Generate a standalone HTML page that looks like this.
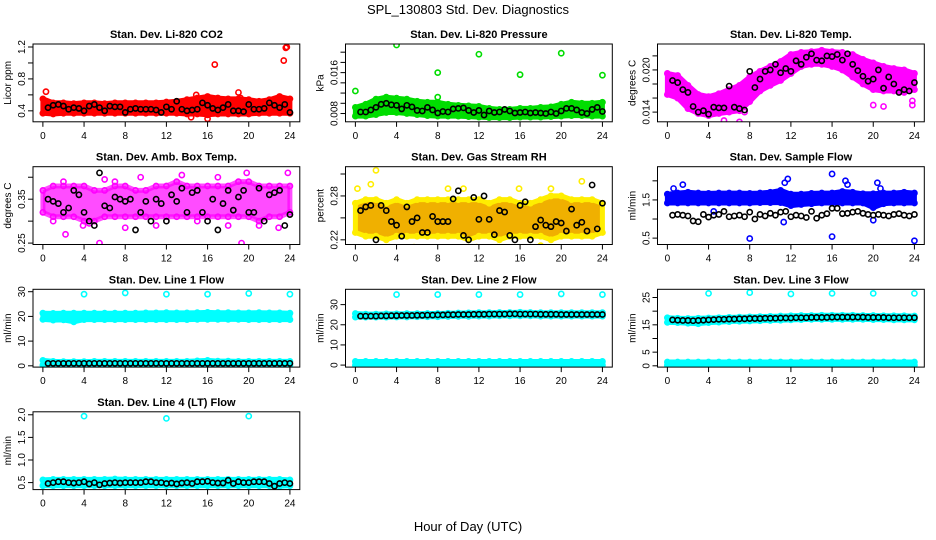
<!DOCTYPE html>
<html><head><meta charset="utf-8">
<style>
html,body{margin:0;padding:0;background:#fff;}
svg{display:block;font-family:"Liberation Sans",Arial,sans-serif;}
</style></head>
<body>
<svg id="chart" width="936" height="540" viewBox="0 0 936 540" xmlns="http://www.w3.org/2000/svg">
<text x="468" y="14" text-anchor="middle" font-size="13">SPL_130803  Std. Dev. Diagnostics</text>
<text x="468" y="531" text-anchor="middle" font-size="13">Hour of Day (UTC)</text>
</svg>
<script>
// ---- shared x data ----
const hoursBand = [0,1,2,3,4,5,6,7,8,9,10,11,12,13,14,15,16,17,18,19,20,21,22,23,24];
const hoursBlack = [0.5,1,1.5,2,2.5,3,3.5,4,4.5,5,5.5,6,6.5,7,7.5,8,8.5,9,9.5,10,10.5,11,11.5,12,12.5,13,13.5,14,14.5,15,15.5,16,16.5,17,17.5,18,18.5,19,19.5,20,20.5,21,21.5,22,22.5,23,23.5,24];
const xTicks = [0,4,8,12,16,20,24];

// ---- Panel 1: CO2 ----
const co2Lo = [0.37,0.36,0.37,0.37,0.37,0.37,0.37,0.37,0.37,0.37,0.37,0.37,0.37,0.37,0.36,0.36,0.35,0.36,0.36,0.36,0.36,0.37,0.37,0.37,0.37];
const co2Hi = [0.55,0.50,0.50,0.49,0.50,0.50,0.49,0.50,0.50,0.50,0.50,0.50,0.51,0.52,0.54,0.56,0.58,0.56,0.55,0.55,0.54,0.52,0.54,0.58,0.55];
const co2OutX = [16.7,23.4,23.6,23.7,0.3,19,16,14.4,14.9,19.2];
const co2OutY = [0.98,1.03,1.19,1.20,0.64,0.63,0.30,0.32,0.60,0.56];
const co2Black = [0.44,0.47,0.48,0.46,0.42,0.44,0.43,0.40,0.46,0.48,0.44,0.40,0.46,0.45,0.45,0.38,0.42,0.43,0.42,0.42,0.42,0.41,0.38,0.45,0.42,0.52,0.42,0.40,0.41,0.42,0.50,0.47,0.43,0.41,0.44,0.48,0.40,0.40,0.39,0.48,0.42,0.42,0.43,0.50,0.47,0.44,0.48,0.38];
const co2Ticks = [0.4,0.6,0.8,1.0,1.2];
const co2Labels = ["0.4","","0.8","","1.2"];

// ---- Panel 2: Pressure ----
const presLo = [0.0075,0.0075,0.0078,0.0082,0.0082,0.008,0.0078,0.0076,0.0075,0.0075,0.0075,0.0074,0.0073,0.0072,0.0072,0.0072,0.0073,0.0073,0.0073,0.0074,0.0075,0.0076,0.0076,0.0075,0.0075];
const presHi = [0.0092,0.0098,0.0108,0.0112,0.0110,0.0108,0.0104,0.0102,0.0102,0.0098,0.0096,0.0095,0.0094,0.0090,0.0088,0.0088,0.0090,0.0090,0.0092,0.0093,0.0098,0.0102,0.0100,0.0100,0.0102];
const presOutX = [4,12,20,8,16,24,0,8];
const presOutY = [0.0214,0.0196,0.0198,0.0160,0.0156,0.0155,0.0124,0.0112];
const presBlack = [0.0083,0.0083,0.0087,0.0092,0.0098,0.0100,0.0097,0.0096,0.0089,0.0096,0.0093,0.0086,0.0085,0.0092,0.0087,0.0081,0.0084,0.0083,0.0089,0.0090,0.0091,0.0086,0.0082,0.0086,0.0077,0.0085,0.0082,0.0083,0.0088,0.0085,0.0081,0.0082,0.0083,0.0081,0.0082,0.0081,0.0080,0.0083,0.0080,0.0085,0.0090,0.0090,0.0087,0.0082,0.0080,0.0088,0.0092,0.0084];
const presTicks = [0.008,0.010,0.012,0.014,0.016,0.018,0.020];
const presLabels = ["0.008","","","","0.016","",""];

// ---- Panel 3: Li-820 Temp ----
const tempLo = [0.0165,0.0160,0.0145,0.0138,0.0135,0.0138,0.0140,0.0142,0.0155,0.0170,0.0178,0.0185,0.0195,0.0205,0.0208,0.0208,0.0205,0.0200,0.0190,0.0180,0.0172,0.0170,0.0170,0.0168,0.0172];
const tempHi = [0.0195,0.0192,0.0178,0.0165,0.0162,0.0166,0.0172,0.0178,0.0190,0.0198,0.0205,0.0212,0.0222,0.0225,0.0226,0.0228,0.0226,0.0225,0.0222,0.0215,0.0210,0.0205,0.0202,0.0200,0.0195];
const tempOutX = [5.5,7,7.5,20,21,23.8,23.8];
const tempOutY = [0.0128,0.0126,0.0140,0.0150,0.0148,0.0156,0.0150];
const tempBlack = [0.0185,0.0182,0.0172,0.0168,0.0148,0.0140,0.0142,0.0137,0.0147,0.0146,0.0146,0.0177,0.0147,0.0145,0.0143,0.0198,0.0175,0.0187,0.0198,0.0200,0.0208,0.0196,0.0202,0.0198,0.0213,0.0208,0.0218,0.0223,0.0214,0.0213,0.0220,0.0219,0.0222,0.0214,0.0223,0.0208,0.0199,0.0191,0.0184,0.0187,0.0200,0.0174,0.0190,0.0180,0.0168,0.0172,0.0170,0.0182];
const tempTicks = [0.014,0.016,0.018,0.020,0.022];
const tempLabels = ["0.014","","","0.020",""];

// ---- Panel 4: Amb Box Temp ----
const boxLo = [0.32,0.31,0.31,0.31,0.30,0.30,0.31,0.31,0.31,0.31,0.31,0.31,0.31,0.31,0.31,0.31,0.31,0.31,0.31,0.31,0.31,0.30,0.31,0.31,0.32];
const boxHi = [0.37,0.38,0.38,0.38,0.38,0.37,0.37,0.38,0.38,0.37,0.37,0.38,0.38,0.39,0.38,0.38,0.38,0.38,0.38,0.39,0.39,0.38,0.38,0.38,0.38];
const boxOutX = [2.2,5.5,3.9,8,13.5,17,19.8,23.8,19.3,22.9,4.5,2,7,9.5,1,11,15,21,6,18];
const boxOutY = [0.27,0.25,0.29,0.285,0.405,0.40,0.41,0.41,0.25,0.285,0.295,0.39,0.39,0.40,0.30,0.29,0.30,0.29,0.395,0.29];
const boxBlack = [0.35,0.345,0.34,0.32,0.33,0.37,0.36,0.32,0.30,0.29,0.41,0.335,0.33,0.355,0.35,0.345,0.35,0.28,0.32,0.345,0.30,0.35,0.34,0.30,0.36,0.345,0.375,0.32,0.365,0.37,0.32,0.30,0.35,0.28,0.34,0.37,0.325,0.355,0.37,0.32,0.32,0.375,0.30,0.36,0.365,0.37,0.29,0.315];
const boxTicks = [0.25,0.30,0.35,0.40];
const boxLabels = ["0.25","","0.35",""];

// ---- Panel 5: Gas Stream RH ----
const rhLo = [0.23,0.225,0.225,0.22,0.225,0.225,0.225,0.225,0.225,0.225,0.225,0.22,0.225,0.225,0.22,0.225,0.225,0.225,0.225,0.22,0.225,0.225,0.225,0.225,0.23];
const rhHi = [0.27,0.275,0.275,0.27,0.275,0.27,0.275,0.275,0.275,0.275,0.275,0.275,0.275,0.27,0.275,0.275,0.27,0.27,0.275,0.28,0.28,0.275,0.275,0.275,0.27];
const rhOutX = [2,0.2,3.3,5.7,11.8,19,22,9,13.8,1.5,18,10.5,15.9];
const rhOutY = [0.315,0.29,0.21,0.21,0.21,0.29,0.30,0.29,0.21,0.296,0.212,0.29,0.29];
const rhBlack = [0.26,0.265,0.267,0.22,0.267,0.26,0.245,0.24,0.225,0.265,0.245,0.25,0.23,0.23,0.252,0.245,0.245,0.245,0.276,0.287,0.226,0.22,0.278,0.248,0.28,0.248,0.227,0.26,0.258,0.226,0.22,0.267,0.272,0.22,0.238,0.247,0.24,0.238,0.245,0.243,0.232,0.262,0.240,0.244,0.232,0.295,0.235,0.27];
const rhTicks = [0.22,0.25,0.28,0.31];
const rhLabels = ["0.22","","0.28",""];

// ---- Panel 6: Sample Flow ----
const sfLo = [1.42,1.42,1.42,1.42,1.42,1.42,1.42,1.42,1.42,1.43,1.43,1.43,1.35,1.38,1.40,1.42,1.42,1.42,1.42,1.42,1.30,1.40,1.42,1.42,1.42];
const sfHi = [1.65,1.68,1.70,1.68,1.67,1.68,1.68,1.68,1.67,1.68,1.70,1.75,1.65,1.65,1.67,1.68,1.68,1.72,1.70,1.66,1.66,1.68,1.68,1.70,1.68];
const sfOutX = [8,16,24,16,17.3,11.7,1.5,11.3,20,20.4,4.5,0.6,11.4,17.5,20.7];
const sfOutY = [0.49,0.54,0.43,2.18,2.0,2.05,1.9,0.92,0.97,1.95,1.2,1.8,1.95,1.9,1.8];
const sfBlack = [1.1,1.12,1.1,1.08,0.95,0.93,1.12,1.05,1.1,1.12,1.2,1.06,1.08,1.1,1.06,1.18,1.0,1.12,1.08,1.15,1.1,1.18,1.2,1.06,1.1,1.08,1.04,1.2,1.02,1.1,1.14,1.28,1.28,1.14,1.15,1.18,1.2,1.15,1.12,1.1,1.12,1.1,1.08,1.12,1.14,1.1,1.08,1.12];
const sfTicks = [0.5,1.0,1.5,2.0];
const sfLabels = ["0.5","","1.5",""];

// ---- Panel 7: Line 1 Flow ----
const l1Lo = [18.8,18.5,18.6,17.8,18.7,18.7,18.7,18.7,18.7,18.7,18.7,18.7,18.7,18.7,18.7,18.8,18.8,18.8,18.8,18.8,18.7,18.7,18.7,18.7,18.7];
const l1Hi = [21.3,21.2,21.3,21.3,21.3,21.3,21.3,21.3,21.3,21.3,21.4,21.4,21.5,21.4,21.4,21.5,21.6,21.5,21.5,21.4,21.4,21.5,21.4,21.4,21.3];
const l1Lo2 = [0.3,0.3,0.3,0.3,0.3,0.3,0.3,0.3,0.3,0.3,0.3,0.3,0.3,0.3,0.3,0.3,0.3,0.3,0.3,0.3,0.3,0.3,0.3,0.3,0.3];
const l1Hi2 = [2.2,1.8,1.7,1.7,1.7,1.8,1.8,1.8,1.8,1.8,1.8,1.8,1.8,1.8,1.8,2.0,2.2,1.9,1.9,1.8,1.8,1.8,1.8,1.8,1.8];
const l1OutX = [4,8,12,16,20,24];
const l1OutY = [29,29.5,29,29,29.3,29];
const l1Black = [1.0,1.0,1.0,1.0,1.0,1.0,1.0,1.0,1.0,1.0,1.0,1.0,1.0,1.0,1.0,1.0,1.0,1.0,1.0,1.0,1.0,1.0,1.0,1.0,1.0,1.0,1.0,1.0,1.0,1.0,1.0,1.0,1.0,1.0,1.0,1.0,1.0,1.0,1.0,1.0,1.0,1.0,1.0,1.0,1.0,1.0,1.0,1.0];
const l1Ticks = [0,10,20,30];
const l1Labels = ["0","10","20","30"];

// ---- Panel 8: Line 2 Flow ----
const l2Lo = [23.8,23.8,23.8,23.8,23.9,23.9,24.0,24.0,24.0,24.1,24.2,24.2,24.3,24.3,24.4,24.4,24.4,24.4,24.3,24.3,24.3,24.3,24.3,24.3,24.3];
const l2Hi = [25.6,25.3,25.3,25.4,25.4,25.5,25.5,25.6,25.6,25.7,25.8,25.9,26.0,26.0,26.1,26.1,26.2,26.1,26.0,26.0,26.0,26.0,26.0,26.0,26.0];
const l2Lo2 = [0,0,0,0,0,0,0,0,0,0,0,0,0,0,0,0,0,0,0,0,0,0,0,0,0];
const l2Hi2 = [1.8,1.8,1.8,1.8,1.8,1.8,1.8,1.8,1.8,1.8,1.8,1.8,1.8,1.8,1.8,1.8,1.8,1.8,1.8,1.8,1.8,1.8,1.8,1.8,1.8];
const l2OutX = [4,8,12,16,20,24];
const l2OutY = [35,35,35,35,35.3,35];
const l2Black = [24.3,24.3,24.3,24.3,24.4,24.4,24.5,24.5,24.6,24.6,24.6,24.7,24.7,24.8,24.8,24.9,24.9,25.0,25.0,25.1,25.1,25.1,25.2,25.2,25.2,25.3,25.3,25.3,25.3,25.4,25.4,25.3,25.3,25.3,25.3,25.2,25.2,25.2,25.2,25.1,25.1,25.1,25.1,25.1,25.1,25.1,25.1,25.1];
const l2Ticks = [0,10,20,30];
const l2Labels = ["0","10","20","30"];

// ---- Panel 9: Line 3 Flow ----
const l3Lo = [15.9,15.8,15.6,15.4,15.8,16.0,16.2,16.3,16.4,16.5,16.6,16.7,16.8,16.9,17.0,17.0,17.0,17.0,17.0,17.0,16.9,16.9,16.8,16.8,16.8];
const l3Hi = [17.6,17.4,17.3,17.4,17.5,17.6,17.7,17.8,17.9,18.0,18.1,18.2,18.3,18.4,18.4,18.5,18.5,18.5,18.5,18.4,18.4,18.3,18.3,18.3,18.2];
const l3Lo2 = [0.2,0.2,0.2,0.2,0.2,0.2,0.2,0.2,0.2,0.2,0.2,0.2,0.2,0.2,0.2,0.2,0.2,0.2,0.2,0.2,0.2,0.2,0.2,0.2,0.2];
const l3Hi2 = [1.4,1.4,1.4,1.4,1.4,1.4,1.4,1.4,1.4,1.4,1.4,1.4,1.4,1.4,1.4,1.4,1.4,1.4,1.4,1.4,1.4,1.4,1.4,1.4,1.4];
const l3OutX = [4,8,12,16,20,24];
const l3OutY = [26.5,26.8,26.3,26.5,26.5,26.5];
const l3Black = [16.8,16.7,16.6,16.6,16.5,16.6,16.7,16.8,16.9,17.0,17.0,17.1,17.1,17.2,17.2,17.3,17.3,17.3,17.4,17.4,17.4,17.5,17.5,17.5,17.6,17.6,17.6,17.7,17.7,17.7,17.7,17.8,17.8,17.8,17.8,17.8,17.8,17.8,17.7,17.7,17.7,17.7,17.6,17.6,17.6,17.6,17.6,17.6];
const l3Ticks = [0,5,10,15,20,25];
const l3Labels = ["0","5","","15","","25"];

// ---- Panel 10: Line 4 (LT) Flow ----
const l4Lo = [0.43,0.43,0.43,0.43,0.43,0.43,0.43,0.43,0.43,0.43,0.43,0.43,0.43,0.43,0.43,0.43,0.43,0.43,0.43,0.43,0.43,0.43,0.43,0.42,0.43];
const l4Hi = [0.56,0.57,0.57,0.57,0.57,0.57,0.57,0.58,0.57,0.57,0.57,0.57,0.57,0.57,0.57,0.57,0.57,0.57,0.57,0.57,0.57,0.57,0.57,0.57,0.56];
const l4OutX = [4,12,20];
const l4OutY = [1.97,1.92,1.97];
const l4Black = [0.48,0.50,0.52,0.52,0.50,0.49,0.50,0.52,0.47,0.50,0.45,0.48,0.49,0.50,0.49,0.50,0.50,0.50,0.50,0.52,0.52,0.50,0.50,0.48,0.49,0.47,0.49,0.50,0.48,0.52,0.52,0.53,0.50,0.49,0.49,0.55,0.48,0.52,0.50,0.50,0.52,0.52,0.52,0.48,0.42,0.48,0.50,0.48];
const l4Ticks = [0.5,1.0,1.5,2.0];
const l4Labels = ["0.5","1.0","1.5","2.0"];

// ---------------- layout (not data) ----------------
const NS = "http://www.w3.org/2000/svg";
const svg = document.getElementById('chart');
const colX = [33, 345.5, 657.5];
const rowY = [44, 166.7, 289.3, 411.8];
const boxW = 266.8, boxH = 77.8;

function mk(tag, attrs, parent) {
  const e = document.createElementNS(NS, tag);
  for (const k in attrs) e.setAttribute(k, attrs[k]);
  (parent || svg).appendChild(e);
  return e;
}

const panels = [
  {key:'co2', title:'Stan. Dev. Li-820 CO2', ylab:'Licor ppm', c:0, r:0, ymin:0.2625, ymax:1.2375, color:'#ff0000', lo:co2Lo, hi:co2Hi, ox:co2OutX, oy:co2OutY, black:co2Black, ticks:co2Ticks, labels:co2Labels},
  {key:'pressure', title:'Stan. Dev. Li-820 Pressure', ylab:'kPa', c:1, r:0, ymin:0.00638, ymax:0.0216, color:'#00dd00', lo:presLo, hi:presHi, ox:presOutX, oy:presOutY, black:presBlack, ticks:presTicks, labels:presLabels},
  {key:'li820-temp', title:'Stan. Dev. Li-820 Temp.', ylab:'degrees C', c:2, r:0, ymin:0.01262, ymax:0.02369, color:'#ff00ff', lo:tempLo, hi:tempHi, ox:tempOutX, oy:tempOutY, black:tempBlack, ticks:tempTicks, labels:tempLabels},
  {key:'amb-box-temp', title:'Stan. Dev. Amb. Box Temp.', ylab:'degrees C', c:0, r:1, ymin:0.2468, ymax:0.424, color:'#ff00ff', fo:0.7, lo:boxLo, hi:boxHi, ox:boxOutX, oy:boxOutY, black:boxBlack, ticks:boxTicks, labels:boxLabels},
  {key:'gas-stream-rh', title:'Stan. Dev. Gas Stream RH', ylab:'percent', c:1, r:1, ymin:0.2136, ymax:0.32, color:'#f0b000', edge:'#ffee00', lo:rhLo, hi:rhHi, ox:rhOutX, oy:rhOutY, black:rhBlack, ticks:rhTicks, labels:rhLabels},
  {key:'sample-flow', title:'Stan. Dev. Sample Flow', ylab:'ml/min', c:2, r:1, ymin:0.333, ymax:2.37, color:'#0000ff', lo:sfLo, hi:sfHi, ox:sfOutX, oy:sfOutY, black:sfBlack, ticks:sfTicks, labels:sfLabels},
  {key:'line1-flow', title:'Stan. Dev. Line 1 Flow', ylab:'ml/min', c:0, r:2, ymin:-0.52, ymax:30.97, color:'#00ffff', lo:l1Lo, hi:l1Hi, lo2:l1Lo2, hi2:l1Hi2, ox:l1OutX, oy:l1OutY, black:l1Black, ticks:l1Ticks, labels:l1Labels},
  {key:'line2-flow', title:'Stan. Dev. Line 2 Flow', ylab:'ml/min', c:1, r:2, ymin:-1.0, ymax:37.6, color:'#00ffff', lo:l2Lo, hi:l2Hi, lo2:l2Lo2, hi2:l2Hi2, ox:l2OutX, oy:l2OutY, black:l2Black, ticks:l2Ticks, labels:l2Labels},
  {key:'line3-flow', title:'Stan. Dev. Line 3 Flow', ylab:'ml/min', c:2, r:2, ymin:-0.47, ymax:28.0, color:'#00ffff', lo:l3Lo, hi:l3Hi, lo2:l3Lo2, hi2:l3Hi2, ox:l3OutX, oy:l3OutY, black:l3Black, ticks:l3Ticks, labels:l3Labels},
  {key:'line4-flow', title:'Stan. Dev. Line 4 (LT) Flow', ylab:'ml/min', c:0, r:3, ymin:0.345, ymax:2.066, color:'#00ffff', lo:l4Lo, hi:l4Hi, ox:l4OutX, oy:l4OutY, black:l4Black, ticks:l4Ticks, labels:l4Labels}
];

function bandPath(xs, lo, hi, X, Y) {
  let d = '';
  xs.forEach((h, i) => { d += (i ? 'L' : 'M') + X(h).toFixed(1) + ',' + Y(hi[i]).toFixed(1); });
  for (let i = xs.length - 1; i >= 0; i--) d += 'L' + X(xs[i]).toFixed(1) + ',' + Y(lo[i]).toFixed(1);
  return d + 'Z';
}

panels.forEach(p => {
  const L = colX[p.c], T = rowY[p.r], R = L + boxW, B = T + boxH;
  const X = h => L + (h + 0.96) / 25.92 * boxW;
  const Y = v => B - (v - p.ymin) / (p.ymax - p.ymin) * boxH;
  const g = mk('g', {});
  
  

  const t = mk('text', {x: (L + R) / 2, y: T - 6, 'text-anchor': 'middle', 'font-size': 11, 'font-weight': 'bold'}, g);
  t.textContent = p.title;
  
  

  const yl = mk('text', {transform: `translate(${L - 22},${(T + B) / 2}) rotate(-90)`, 'text-anchor': 'middle', 'font-size': 10}, g);
  yl.textContent = p.ylab;
  
  

  const clip = mk('clipPath', {id: 'clip-' + p.key}, g);
  mk('rect', {x: L, y: T, width: boxW, height: boxH}, clip);
  const marks = mk('g', {'clip-path': `url(#clip-${p.key})`}, g);
  
  

  const bands = [[p.lo, p.hi]];
  if (p.lo2) bands.push([p.lo2, p.hi2]);
  bands.forEach(([lo, hi], bi) => {
    const band = mk('path', {d: bandPath(hoursBand, lo, hi, X, Y), fill: p.color, 'fill-opacity': p.fo || 1, stroke: p.edge || p.color, 'stroke-opacity': p.fo || 1, 'stroke-width': 5, 'stroke-linejoin': 'round'}, marks);
    
    
    hoursBand.forEach((h, i) => {
      [lo[i], hi[i]].forEach(v => {
        const c = mk('circle', {cx: X(h), cy: Y(v), r: 2.6, fill: 'none', stroke: p.edge || p.color, 'stroke-width': 1.6}, marks);
        
        
      });
    });
  });
  p.ox.forEach((h, i) => {
    const c = mk('circle', {cx: X(h), cy: Y(p.oy[i]), r: 2.6, fill: 'none', stroke: p.edge || p.color, 'stroke-width': 1.6}, marks);
    
    
  });
  p.black.forEach((v, i) => {
    const c = mk('circle', {cx: X(hoursBlack[i]), cy: Y(v), r: 2.6, fill: 'none', stroke: '#000', 'stroke-width': 1.6}, marks);
    
    
  });

  const box = mk('rect', {x: L, y: T, width: boxW, height: boxH, fill: 'none', stroke: '#000', 'stroke-width': 1}, g);
  
  

  xTicks.forEach(h => {
    mk('line', {x1: X(h), x2: X(h), y1: B, y2: B + 5, stroke: '#000'}, g);
    const tl = mk('text', {x: X(h), y: B + 17, 'text-anchor': 'middle', 'font-size': 10}, g);
    tl.textContent = h;
    
    
  });
  p.ticks.forEach((v, i) => {
    mk('line', {x1: L - 5, x2: L, y1: Y(v), y2: Y(v), stroke: '#000'}, g);
    if (p.labels[i]) {
      const tl = mk('text', {transform: `translate(${L - 8},${Y(v)}) rotate(-90)`, 'text-anchor': 'middle', 'font-size': 10}, g);
      tl.textContent = p.labels[i];
      
      
    }
  });
});
</script>
</body></html>
